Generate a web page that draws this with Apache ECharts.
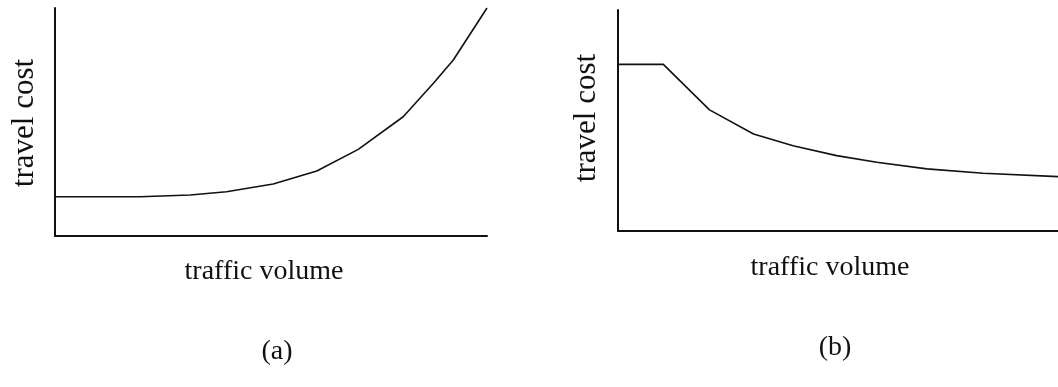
<!DOCTYPE html>
<html>
<head>
<meta charset="utf-8">
<script src="https://cdn.jsdelivr.net/npm/echarts@6/dist/echarts.min.js"></script>
<style>
html,body{margin:0;padding:0;background:#fff;}
#chart{width:1058px;height:387px;}
</style>
</head>
<body>
<div id="chart"></div>
<script>
// Panel (a): travel cost rises with traffic volume
const aVolume = [0, 19.7, 31.3, 39.7, 50.5, 60.6, 70.2, 80.6, 87.6, 92.2, 100];
const aCost   = [17.2, 17.2, 18.0, 19.4, 22.8, 28.5, 38.0, 52.3, 67.0, 77.2, 100];
// Panel (b): travel cost falls with traffic volume
const bVolume = [0, 10.3, 20.8, 30.8, 39.8, 49.7, 58.8, 70.2, 83.0, 100];
const bCost   = [75.4, 75.4, 54.8, 43.9, 38.6, 34.1, 31.1, 28.1, 26.1, 24.6];

const yLabel = 'travel cost';
const xLabel = 'traffic volume';
const panelLabels = ['(a)', '(b)'];

const serif = '"Liberation Serif", "Times New Roman", serif';
const ink = '#111';

const chart = echarts.init(document.getElementById('chart'));

function axisCommon() {
  return {
    type: 'value', min: 0, max: 100,
    axisLine: { show: true, onZero: false, lineStyle: { color: ink, width: 2 } },
    axisTick: { show: false }, axisLabel: { show: false }, splitLine: { show: false }
  };
}

function txt(text, x, y, size, rot) {
  return {
    type: 'text', x: x, y: y, rotation: rot || 0,
    style: { text: text, font: size + 'px ' + serif, fill: ink, textAlign: 'center', textVerticalAlign: 'middle' }
  };
}

chart.setOption({
  backgroundColor: '#fff',
  animation: false,
  grid: [
    { left: 55, top: 8, width: 432, height: 228 },
    { left: 618, top: 10, width: 440, height: 221 }
  ],
  xAxis: [Object.assign(axisCommon(), { gridIndex: 0 }), Object.assign(axisCommon(), { gridIndex: 1 })],
  yAxis: [Object.assign(axisCommon(), { gridIndex: 0 }), Object.assign(axisCommon(), { gridIndex: 1 })],
  series: [
    {
      type: 'line', xAxisIndex: 0, yAxisIndex: 0, clip: false, symbol: 'none',
      lineStyle: { color: ink, width: 1.6 },
      data: aVolume.map((v, i) => [v, aCost[i]])
    },
    {
      type: 'line', xAxisIndex: 1, yAxisIndex: 1, clip: false, symbol: 'none',
      lineStyle: { color: ink, width: 1.6 },
      data: bVolume.map((v, i) => [v, bCost[i]])
    }
  ],
  graphic: [
    txt(yLabel, 25, 123, 31, Math.PI / 2),
    txt(yLabel, 587, 118, 31, Math.PI / 2),
    txt(xLabel, 264, 272, 28),
    txt(xLabel, 830, 268, 28),
    txt(panelLabels[0], 277, 352, 28),
    txt(panelLabels[1], 835, 348, 28)
  ]
});
</script>
</body>
</html>
